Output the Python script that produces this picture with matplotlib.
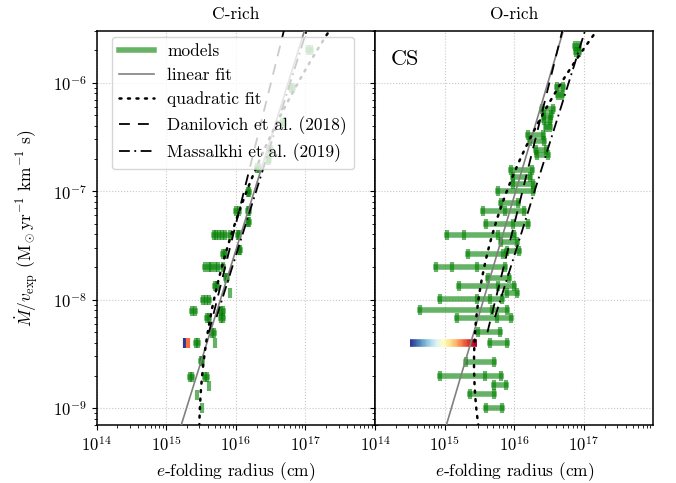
import matplotlib.pyplot as plt
import numpy as np
from matplotlib.collections import LineCollection
from matplotlib.lines import Line2D
from matplotlib.ticker import FixedLocator

plt.rcParams['font.family'] = 'serif'
plt.rcParams['font.serif'] = ['cmr10']
plt.rcParams['mathtext.fontset'] = 'cm'
plt.rcParams['axes.formatter.use_mathtext'] = True
plt.rcParams['font.size'] = 12.5
plt.rcParams['xtick.labelsize'] = 12
plt.rcParams['ytick.labelsize'] = 12
plt.rcParams['axes.linewidth'] = 1.1

#================
# Data: log10(Mdot/v_exp) per star and log10 e-folding radii (cm) of its models
#================

crich_logmv = [-5.70, -6.05, -6.37, -6.62, -6.71, -6.79, -7.005, -7.18, -7.18, -7.28,
               -7.40, -7.40, -7.54, -7.58, -7.70, -7.80, -7.87, -7.94, -8.00, -8.10,
               -8.10, -8.17, -8.17, -8.31, -8.40, -8.40, -8.565, -8.71, -8.71, -8.795,
               -8.88, -8.995]
crich_logr = [[17.04, 17.08], [16.79, 16.82], [16.66, 16.69], [16.48, 16.50], [16.46, 16.48],
              [16.31, 16.34], [16.17, 16.19], [16.01, 16.04], [16.17, 16.19], [16.17, 16.19],
              [15.68, 15.72, 15.76, 15.80, 15.84, 15.92], [16.03, 16.05], [16.04, 16.06],
              [15.82, 15.85], [15.56, 15.61, 15.65, 15.70, 15.74, 15.82], [15.86, 15.88],
              [15.70, 15.73], [15.92], [15.53, 15.57, 15.61], [15.37, 15.42], [15.79, 15.81],
              [15.59, 15.62], [15.79, 15.81], [15.66, 15.69], [15.43, 15.46], [15.70],
              [15.50, 15.52], [15.34, 15.37], [15.56, 15.58], [15.62], [15.44], [15.52]]

orich_logmv = [-5.66, -5.72, -6.04, -6.11, -6.24, -6.30, -6.34, -6.41, -6.48, -6.54,
               -6.62, -6.67, -6.80, -6.87, -6.93, -7.00, -7.11, -7.18, -7.30, -7.40,
               -7.47, -7.55, -7.58, -7.70, -7.80, -7.87, -7.94, -7.99, -8.095, -8.17,
               -8.30, -8.40, -8.57, -8.70, -8.79, -8.87, -9.00]
orich_logr = [[16.87, 16.93], [16.88, 16.93], [16.61, 16.70], [16.63, 16.69], [16.40, 16.56],
              [16.43, 16.53], [16.43, 16.52], [16.45, 16.52], [16.20, 16.42], [16.22, 16.43],
              [16.31, 16.45], [16.33, 16.48], [15.96, 16.25], [15.98, 16.22], [15.98, 16.27],
              [15.76, 16.27], [15.81, 16.05], [15.55, 15.87, 16.14], [15.60, 15.98, 16.20],
              [15.04, 15.28, 15.77, 16.00], [15.81, 16.04], [15.89, 16.07], [15.33, 15.84],
              [14.88, 15.10, 15.47, 15.87], [15.63, 15.92], [15.21, 15.77, 15.99],
              [15.89, 16.04], [14.93, 15.46, 15.65, 15.83], [14.65, 15.68, 15.89],
              [15.18, 15.75, 15.95], [15.48, 15.80], [15.65, 15.89], [15.31, 15.71],
              [14.94, 15.58, 15.81], [15.71, 15.88], [15.37, 15.71], [15.59, 15.82]]

# highlighted source, models coloured along RdYlBu_r
hl_logmv = -8.40
crich_hl_logr = [15.27, 15.32]
crich_hl_cpos = [0.0, 0.8]
orich_hl_logr = [14.51, 15.46]

# fits: log R = a + b*log(Mdot/v) + c*log(Mdot/v)^2
crich_lin = [19.674, 0.4869, 0.0]
crich_quad = [26.95, 2.48, 0.134]
orich_lin = [19.255, 0.462, 0.0]
orich_quad = [29.27, 3.227, 0.188]
danilovich = [18.827, 0.387, 0.0]
massalkhi = [19.722, 0.49, 0.0]
danilovich_min = -8.30
massalkhi_min = -8.16

cmap = plt.cm.RdYlBu_r
green = 'green'
dotted = (0, (0.8, 2.6))
dashed = (0, (6, 4.5))
dashdot = (0, (6, 2.5, 1, 2.5))

#================
# Plot setup
#================
fig = plt.figure(figsize=(6.76, 4.83), dpi=100)
ax1 = fig.add_axes([0.1428, 0.1201, 0.4120, 0.8157])
ax2 = fig.add_axes([0.5547, 0.1201, 0.4120, 0.8157], sharey=ax1)


def curve(coef, lo=-9.4, hi=-5.2):
    u = np.linspace(lo, hi, 300)
    return 10 ** (coef[0] + coef[1] * u + coef[2] * u ** 2), 10 ** u


def draw_panel(ax, logmv, logr, lin, quad):
    for y, xs in zip(logmv, logr):
        xs = np.array(xs)
        ax.plot(10 ** xs, np.full(len(xs), 10.0 ** y), color=green, alpha=0.6,
                lw=4, marker='|', ms=7, mew=3, zorder=2)
    ax.plot(*curve(lin), color='grey', lw=1.2, zorder=3)
    ax.plot(*curve(quad), color='k', ls=dotted, lw=1.8, dash_capstyle='round', zorder=3)
    ax.plot(*curve(danilovich, lo=danilovich_min), color='k', ls=dashed, lw=1.3, zorder=3)
    ax.plot(*curve(massalkhi, lo=massalkhi_min), color='k', ls=dashdot, lw=1.3, zorder=3)


draw_panel(ax1, crich_logmv, crich_logr, crich_lin, crich_quad)
draw_panel(ax2, orich_logmv, orich_logr, orich_lin, orich_quad)

# highlighted source
for x, c in zip(crich_hl_logr, crich_hl_cpos):
    ax1.plot([10 ** x], [10 ** hl_logmv], marker='|', ms=7, mew=3, color=cmap(c), zorder=2.5)

xs = np.linspace(orich_hl_logr[0], orich_hl_logr[1], 80)
pts = np.column_stack([10 ** xs, np.full(len(xs), 10 ** hl_logmv)])
segs = np.stack([pts[:-1], pts[1:]], axis=1)
lc = LineCollection(segs, colors=cmap(np.linspace(0, 1, len(segs))), lw=5.5,
                    capstyle='butt', zorder=2.5)
ax2.add_collection(lc)

#================
# Axes
#================
for ax in (ax1, ax2):
    ax.set_xscale('log')
    ax.set_yscale('log')
    ax.set_xlim(1e14, 1e18)
    ax.xaxis.set_major_locator(FixedLocator([1e14, 1e15, 1e16, 1e17]))
    ax.grid(True, which='major', ls=':', color='#c8c8c8', lw=0.8, zorder=0)
    ax.set_xlabel('$e$-folding radius (cm)')

ax1.set_ylim(7e-10, 3e-6)
ax1.yaxis.set_ticks_position('both')
ax2.tick_params(labelleft=False)

ax1.set_title('C-rich', fontsize=12.5, pad=9)
ax2.set_title('O-rich', fontsize=12.5, pad=9)
ax1.set_ylabel(r'$\dot{M}/v_{\rm exp}$ (M$_\odot$yr$^{-1}$ km$^{-1}$ s)', labelpad=9)

ax2.text(0.055, 0.952, 'CS', transform=ax2.transAxes, fontsize=16, va='top')

handles = [Line2D([], [], color=green, alpha=0.6, lw=4),
           Line2D([], [], color='grey', lw=1.2),
           Line2D([], [], color='k', ls=dotted, lw=1.8, dash_capstyle='round'),
           Line2D([], [], color='k', ls=dashed, lw=1.3),
           Line2D([], [], color='k', ls=dashdot, lw=1.3)]
labels = ['models', 'linear fit', 'quadratic fit', 'Danilovich et al. (2018)', 'Massalkhi et al. (2019)']
ax1.legend(handles, labels, loc='upper left', bbox_to_anchor=(0.055, 0.986),
           borderaxespad=0, fontsize=12.5)

fig.savefig('out.png', dpi=100)
